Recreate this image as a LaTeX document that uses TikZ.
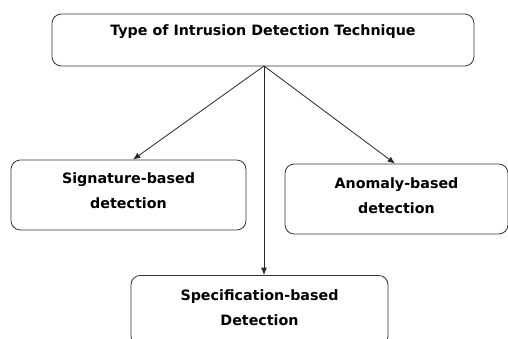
\documentclass[tikz,border=0pt]{standalone}
\usepackage{fontspec}
\setmainfont{DejaVu Sans}
\usetikzlibrary{arrows.meta}

\begin{document}
\begin{tikzpicture}[x=0.75pt,y=-0.75pt]
	\tikzstyle{every node}=[font=\bfseries\fontsize{10.7}{18.8}\selectfont,align=center]
	\tikzstyle{techbox}=[draw=black!80,line width=0.6pt,rounded corners=7pt,inner sep=0pt]
	\tikzstyle{link}=[draw=black!85,line width=0.6pt,-{Latex[length=5.5pt,width=4.5pt]}]

	%% frame of the picture
	\useasboundingbox (0,0) rectangle (508,339);
	\clip (0,0) rectangle (508,339);

	\node [techbox,minimum width=422*0.75pt,minimum height=52*0.75pt,text depth=15pt]  (tech) at (263,40)  {Type of Intrusion Detection Technique};
	\node [techbox,minimum width=235*0.75pt,minimum height=70*0.75pt,text depth=6pt]  (sig) at (128.5,195)  {Signature-based\\detection};
	\node [techbox,minimum width=223*0.75pt,minimum height=70*0.75pt,text depth=5pt]  (anom) at (396.5,199)  {Anomaly-based\\detection};
	\node [techbox,minimum width=257*0.75pt,minimum height=70*0.75pt,text depth=4pt,anchor=north]  (spec) at (259.5,275)  {Specification-based\\Detection};

	\coordinate (root) at (264,66);
	\draw [link]  (root) -- (sig.north -| 133,0);
	\draw [link]  (root) -- (spec.north -| root);
	\draw [link]  (root) -- (anom.north -| 395,0);

\end{tikzpicture}
\end{document}
